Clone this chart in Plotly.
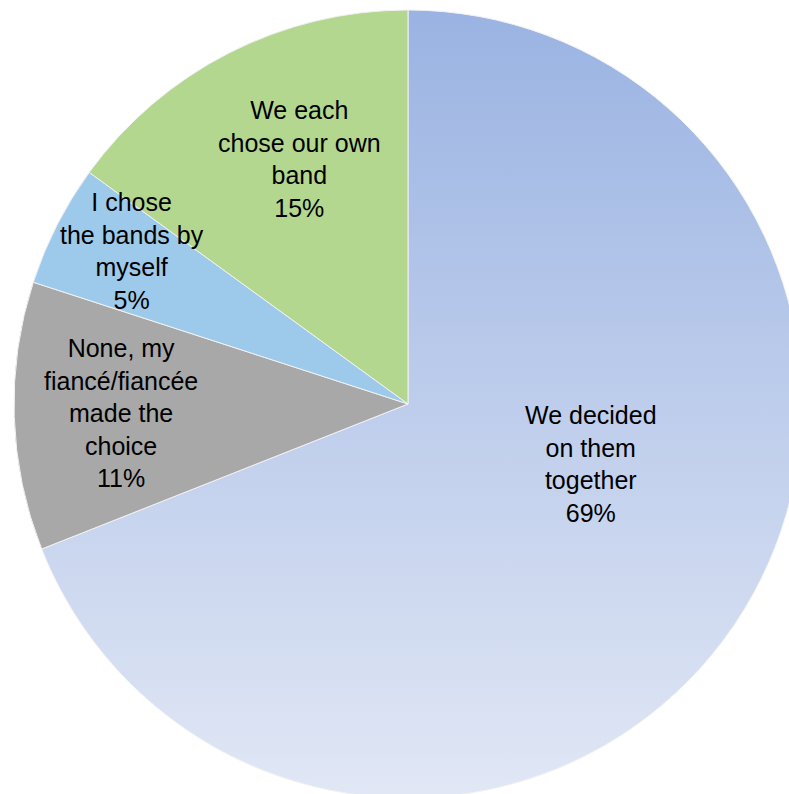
import base64
import math
import plotly.graph_objects as go

# Survey answers: who chose the wedding bands
labels = [
    "We decided<br>on them<br>together",
    "None, my<br>fiancé/fiancée<br>made the<br>choice",
    "I chose<br>the bands by<br>myself",
    "We each<br>chose our own<br>band",
]
values = [69, 11, 5, 15]
colors = ["rgba(0,0,0,0)", "#A8A8A9", "#9DC9EA", "#B3D78E"]

# Label placement: distance from centre (fraction of radius) and angular nudge
label_radius = [0.49, 0.73, 0.80, 0.68]
label_nudge_deg = [-16, 0, 2, 3]

FONT = "Liberation Sans, Arial, sans-serif"

# Vertical gradient for the largest slice, drawn as a disc under the pie
grad_svg = (
    '<svg xmlns="http://www.w3.org/2000/svg" viewBox="0 0 100 100" '
    'preserveAspectRatio="none">'
    '<defs><linearGradient id="g" x1="0" y1="0" x2="0" y2="1">'
    '<stop offset="0" stop-color="#9AB3E2"/>'
    '<stop offset="1" stop-color="#E1E7F5"/>'
    '</linearGradient></defs>'
    '<circle cx="50" cy="50" r="50" fill="url(#g)"/></svg>'
)
grad_uri = "data:image/svg+xml;base64," + base64.b64encode(grad_svg.encode()).decode()

fig = go.Figure(
    go.Pie(
        labels=labels,
        values=values,
        sort=False,
        direction="clockwise",
        rotation=0,
        marker=dict(colors=colors, line=dict(color="#F2F2F2", width=1)),
        textinfo="none",
        hoverinfo="label+percent",
        showlegend=False,
    )
)

fig.add_layout_image(
    source=grad_uri,
    xref="paper", yref="paper",
    x=0, y=1, sizex=1, sizey=1,
    xanchor="left", yanchor="top",
    sizing="stretch",
    layer="below",
)

# Data labels placed along each slice's bisector (clockwise from 12 o'clock)
total = sum(values)
start = 0.0
for lab, val, frac, nudge in zip(labels, values, label_radius, label_nudge_deg):
    span = 360.0 * val / total
    mid = math.radians(start + span / 2 + nudge)
    start += span
    pct = round(100.0 * val / total)
    fig.add_annotation(
        x=0.5 + 0.5 * frac * math.sin(mid),
        y=0.5 + 0.5 * frac * math.cos(mid),
        xref="paper", yref="paper",
        text=f"{lab}<br>{pct}%",
        showarrow=False,
        xanchor="center", yanchor="middle",
        align="center",
        font=dict(family=FONT, size=25, color="black"),
    )

fig.update_layout(
    width=816,
    height=808,
    margin=dict(l=14, r=14, t=10, b=10),
    paper_bgcolor="white",
    plot_bgcolor="white",
)

fig.write_html(
    "out.html",
    post_script=(
        "document.body.style.margin='0';"
        "document.body.style.overflow='hidden';"
        "document.documentElement.style.overflow='hidden';"
    ),
)
